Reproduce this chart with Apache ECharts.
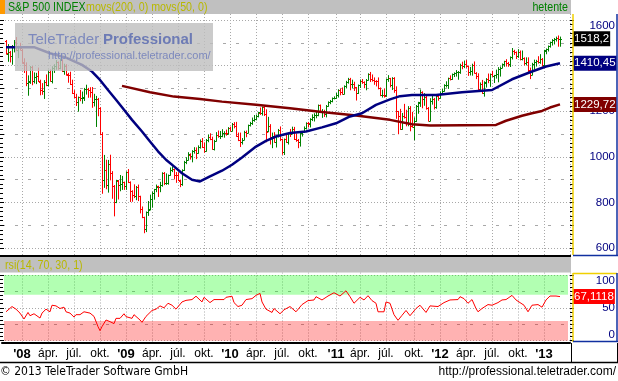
<!DOCTYPE html>
<html><head><meta charset="utf-8">
<script src="https://cdn.jsdelivr.net/npm/echarts@6/dist/echarts.min.js"></script>
<style>html,body{margin:0;padding:0;background:#fff}#c{width:618px;height:381px}</style>
</head><body><div id="c"></div>
<script>
// ---------- DATA ----------
const firstWeek = [2007, 10, 26];      // first weekly slot (Friday) on the axis
const weekCount = 285;                 // weekly slots on the axis
const dataStartWeek = 2;               // first bar: week ending 2007-11-09
const lastLabelWeek = 279;             // no time labels after the last bar
const monthNames = {4: 'ápr.', 7: 'júl.', 10: 'okt.'};

const opens = [
 1509,1453,1458,1440,1481,1505,1468,1484,
 1468,1414,1402,1325,1330,1395,1331,1350,1353,1330,1293,1288,1330,1316,1370,1333,1390,1398,1414,1388,1425,1376,1400,1361,1360,1318,1278,1263,1239,1261,1258,1260,1296,1298,1292,1283,1242,1252,1255,1213,1099,899,941,877,969,931,873,800,896,876,880,888,
 873,932,890,850,832,826,869,827,770,735,683,757,769,816,843,857,870,866,878,929,883,887,919,940,946,921,919,896,879,940,979,988,1010,1004,1026,1029,1016,1043,1068,1044,1025,1072,1088,1080,1036,1069,1094,1091,1091,1106,1106,1102,1127,
 1115,1145,1136,1092,1074,1066,1075,1109,1105,1139,1150,1160,1167,1178,1194,1192,1217,1187,1111,1136,1088,1089,1065,1092,1118,1077,1023,1078,1065,1103,1102,1122,1079,1072,1065,1104,1110,1126,1149,1146,1165,1176,1183,1183,1226,1199,1200,1189,1225,1240,1244,1257,
 1258,1271,1293,1283,1277,1311,1329,1343,1320,1321,1304,1279,1314,1332,1328,1320,1337,1364,1340,1338,1333,1331,1300,1271,1272,1269,1340,1344,1316,1345,1292,1199,1179,1123,1177,1174,1154,1216,1136,1131,1155,1225,1238,1285,1253,1264,1216,1159,1244,1255,1220,1265,
 1258,1278,1289,1315,1316,1345,1343,1361,1366,1370,1371,1404,1397,1408,1398,1370,1378,1403,1369,1353,1295,1318,1278,1326,1343,1335,1362,1355,1357,1363,1386,1391,1406,1418,1411,1407,1438,1466,1460,1441,1461,1429,1433,1412,1414,1380,1360,1409,1416,1418,1414,1430,
 1402,1466,1472,1486,1503,1513,1518,1520,1516];
const highs = [
 1510,1492,1462,1488,1510,1523,1485,1498,
 1471,1430,1412,1355,1396,1396,1368,1366,1389,1336,1321,1334,1359,1380,1381,1395,1404,1422,1416,1429,1426,1406,1404,1366,1371,1336,1290,1274,1262,1291,1284,1300,1314,1300,1303,1304,1274,1265,1256,1215,1106,1006,985,984,1007,935,874,897,896,918,914,889,
 934,944,890,851,877,870,876,827,780,735,758,804,832,845,857,876,871,888,930,931,925,920,951,956,946,931,930,898,943,980,996,1018,1013,1027,1040,1039,1048,1074,1080,1061,1076,1096,1101,1086,1072,1106,1113,1111,1119,1110,1117,1128,1130,
 1146,1150,1151,1104,1104,1080,1112,1113,1139,1151,1170,1181,1183,1195,1214,1218,1219,1206,1173,1141,1104,1106,1092,1120,1131,1077,1078,1099,1103,1120,1130,1129,1100,1076,1105,1111,1131,1149,1151,1167,1184,1189,1196,1227,1227,1207,1204,1225,1241,1247,1258,1263,
 1278,1294,1297,1302,1311,1331,1344,1344,1336,1327,1304,1315,1337,1339,1329,1339,1364,1370,1359,1346,1334,1346,1302,1292,1298,1341,1356,1344,1347,1347,1307,1199,1208,1190,1230,1204,1220,1220,1195,1171,1225,1239,1293,1285,1277,1266,1216,1255,1267,1256,1266,1270,
 1285,1297,1316,1329,1345,1355,1363,1368,1378,1374,1406,1415,1420,1422,1398,1392,1406,1416,1369,1364,1324,1335,1329,1343,1363,1363,1375,1357,1380,1391,1394,1407,1419,1426,1414,1438,1475,1467,1460,1470,1464,1464,1434,1434,1434,1389,1410,1424,1423,1439,1448,1431,
 1467,1473,1486,1503,1514,1519,1525,1530,1525];
const lows = [
 1450,1419,1416,1406,1460,1467,1435,1468,
 1411,1370,1312,1270,1322,1316,1324,1321,1330,1272,1274,1256,1312,1312,1332,1324,1370,1384,1384,1386,1374,1362,1359,1327,1317,1278,1260,1225,1200,1246,1235,1247,1275,1261,1262,1217,1223,1133,1180,1097,840,866,860,845,899,818,741,799,815,851,857,857,
 857,887,804,805,821,812,808,754,733,667,672,743,767,779,814,847,826,847,871,878,879,880,919,935,903,888,896,869,875,940,970,986,990,978,1016,992,1016,1038,1041,1020,1025,1066,1075,1033,1030,1069,1086,1080,1088,1086,1095,1100,1115,
 1114,1127,1090,1071,1045,1056,1075,1088,1105,1135,1142,1156,1162,1175,1186,1183,1181,1066,1110,1056,1040,1064,1043,1087,1071,1011,1010,1063,1056,1089,1102,1076,1068,1040,1047,1091,1107,1122,1131,1131,1159,1157,1171,1180,1195,1173,1177,1175,1222,1233,1241,1254,
 1257,1262,1272,1275,1276,1302,1323,1294,1302,1291,1249,1278,1304,1322,1303,1294,1337,1330,1332,1318,1311,1298,1268,1262,1262,1265,1331,1307,1295,1283,1169,1101,1120,1121,1170,1136,1136,1114,1131,1075,1155,1191,1221,1215,1226,1209,1158,1158,1231,1210,1213,1248,
 1258,1274,1288,1306,1300,1337,1340,1352,1354,1340,1366,1386,1391,1392,1357,1359,1358,1367,1343,1292,1291,1278,1266,1306,1325,1309,1353,1326,1345,1329,1354,1391,1397,1398,1397,1396,1429,1449,1431,1436,1425,1425,1403,1403,1373,1343,1360,1385,1398,1411,1410,1398,
 1401,1452,1464,1481,1490,1495,1508,1485,1485];
const closes = [
 1453.7,1458.7,1440.7,1481.1,1504.7,1467.9,1484.5,1478.5,
 1411.6,1401.0,1325.2,1330.6,1395.4,1331.3,1350.0,1353.1,1330.6,1293.4,1288.1,1329.5,1315.2,1370.4,1332.8,1390.3,1397.8,1413.9,1388.3,1425.4,1375.9,1400.4,1360.7,1360.0,1317.9,1278.4,1262.9,1239.5,1260.7,1257.8,1260.3,1296.3,1298.2,1292.2,1282.8,1242.3,1251.7,1255.1,1213.3,1099.2,899.2,940.6,876.8,968.8,931.0,873.3,800.0,896.2,876.1,879.7,887.9,872.8,
 931.8,890.4,850.1,832.0,825.9,868.6,826.8,770.1,735.1,683.4,756.6,768.5,815.9,842.5,856.6,869.6,866.2,877.5,929.2,882.9,887.0,919.1,940.1,946.2,921.2,918.9,896.4,879.1,940.4,979.3,987.5,1010.5,1004.1,1026.1,1028.9,1016.4,1042.7,1068.3,1044.4,1025.2,1071.5,1087.7,1079.6,1036.2,1069.3,1093.5,1091.4,1091.5,1106.0,1106.4,1102.5,1126.5,1115.1,
 1145.0,1136.0,1091.8,1073.9,1066.2,1075.5,1109.2,1104.5,1138.7,1150.0,1159.9,1166.6,1178.1,1194.4,1192.1,1217.3,1186.7,1110.9,1135.7,1087.7,1089.4,1064.9,1091.6,1117.5,1076.8,1022.6,1078.0,1064.9,1102.7,1101.6,1121.6,1079.3,1071.7,1064.6,1104.5,1109.6,1125.6,1148.7,1146.2,1165.2,1176.2,1183.1,1183.3,1225.9,1199.2,1199.7,1189.4,1224.7,1240.4,1243.9,1256.8,1257.6,
 1271.5,1293.2,1283.4,1276.3,1310.9,1329.2,1343.0,1319.9,1321.2,1304.3,1279.2,1313.8,1332.4,1328.2,1319.7,1337.4,1363.6,1340.2,1337.8,1333.3,1331.1,1300.2,1271.0,1271.5,1268.5,1339.7,1344.0,1316.1,1345.0,1292.3,1199.4,1178.8,1123.5,1176.8,1174.0,1154.2,1216.0,1136.4,1131.4,1155.5,1224.6,1238.3,1285.1,1253.2,1263.9,1215.7,1158.7,1244.3,1255.2,1219.7,1265.3,1257.6,
 1277.8,1289.1,1315.4,1316.3,1344.9,1342.6,1361.2,1365.7,1370.0,1370.9,1404.2,1397.1,1408.5,1398.1,1370.3,1378.5,1403.4,1369.1,1353.4,1295.2,1317.8,1278.0,1325.7,1342.8,1335.0,1362.2,1354.7,1356.8,1362.7,1386.0,1391.0,1405.9,1418.2,1411.1,1406.6,1437.9,1465.8,1460.2,1440.7,1460.9,1428.6,1433.2,1411.9,1414.2,1380.0,1359.9,1409.2,1416.2,1418.1,1413.6,1430.2,1402.4,
 1466.5,1472.1,1486.0,1503.0,1513.2,1517.9,1519.8,1515.6,1518.2];

// moving averages (week number on the axis -> value)
const ma50Week   = [2,16,24,32,40,45,49,53,57,61,65,70,74,78,82,86,90,95,99,104,110,115,120,127,132,137,144,152,160,167,174,180,187,194,199,205,217,230,245,255,265,272,279];
const ma50Values = [1481,1481,1454,1435,1403,1374,1337,1293,1250,1206,1162,1111,1067,1024,987,958,928,899,892,914,939,965,997,1045,1070,1089,1104,1111,1129,1147,1177,1191,1228,1252,1266,1271,1271,1283,1293,1340,1374,1396,1410.45];
const ma200Week   = [60,74,86,99,110,127,144,160,177,194,205,214,247,252,260,265,270,274,279];
const ma200Values = [1311,1283,1264,1254,1242,1228,1213,1196,1181,1162,1143,1137,1140,1158,1180,1191,1201,1216,1229.72];

// RSI(14)
const rsiWeek = [2,3,5,7,8,9,10,11,12,13,14,16,17,19,20,22,24,25,27,28,29,31,32,34,36,37,39,41,42,44,46,48,49,50,51,52,54,56,57,59,61,62,65,66,69,70,72,75,77,79,81,83,85,87,90,92,95,97,100,101,104,106,111,112,115,116,118,120,122,125,127,129,130,132,133,135,136,139,141,144,147,150,153,156,157,160,163,166,169,172,174,176,179,181,183,185,187,188,191,192,194,196,198,200,202,204,207,209,212,214,218,221,224,228,229,231,233,235,237,238,240,243,245,248,250,252,255,257,259,261,263,265,268,270,272,274,277,279];
const rsiValues = [44,43,52,48,49,42,40,33,34.5,43,38,41,40,34.5,42,48,44,54,53,54,49,51,44,42,36,39.6,39.6,44,44,42,37,21.4,15.3,21.4,22,31.5,29,26,34,34,41,36.6,34,39.6,31.5,28,37,46,48,53,50,57,54,48,59,61.4,62.6,67.7,59,66,58,62.6,62.6,66,67.7,58,52,54,62.6,64,69,72,59,48,49,43,49,41,47,52,44,55,61,62,67,62,68,73,68,76,67,57,66,62,68.5,61,57,44,44,59,57,39.6,31,38.6,46,38,49,54,43,53,52,58,62,62.6,67,64,57,62.6,49,44,49,55,54,58,62,62.6,69,62,58,54,44,54,55,51,62,68,68,67.1118];
const rsiBands = [[70, 100, 'rgba(0,255,0,0.30)'], [0, 30, 'rgba(255,0,0,0.30)']];

// ---------- BUILD ----------
const weeks = [];
const t0 = Date.UTC(firstWeek[0], firstWeek[1] - 1, firstWeek[2]);
for (let i = 0; i < weekCount; i++) weeks.push(new Date(t0 + i * 7 * 864e5).toISOString().slice(0, 10));
const isQuarter = idx => { const d = weeks[idx]; if (!d) return false; const m = +d.slice(5, 7), day = +d.slice(8, 10); return (m % 3 === 1) && day <= 7; };
const isLabel = idx => idx <= lastLabelWeek && isQuarter(idx);
const quarterLabel = v => { const m = +v.slice(5, 7); return m === 1 ? '{y|\'' + v.slice(2, 4) + '}' : monthNames[m]; };

const UP = '#008000', DOWN = '#ff0000';
const ohlc = closes.map((c, i) => [i + dataStartWeek, opens[i], c, lows[i], highs[i]]);
const pairs = (at, vals) => at.map((k, i) => [weeks[k], vals[i]]);
const fmt = v => String(v).replace('.', ',');

const SANS = "'Liberation Sans', Arial, sans-serif";
const DOT = [1, 2], DASH = [3, 10], GRIDC = '#a8a8a8', CLEAR = 'rgba(0,0,0,0)';

const tagItem = (value, bg) => ({yAxis: value, label: {formatter: fmt(value), backgroundColor: bg}});
const tags = items => ({
  symbol: ['none', 'none'], silent: true, animation: false,
  lineStyle: {color: CLEAR, width: 1, type: 'solid'},
  label: {show: true, position: 'end', distance: 3, color: '#fff',
          padding: [2, 1, 1, 1], fontFamily: SANS, fontSize: 11.5, lineHeight: 12},
  emphasis: {disabled: true},
  data: items
});

// OHLC bar drawn through the axis scales
const renderBar = (params, api) => {
  const k = api.value(0), o = api.value(1), c = api.value(2), l = api.value(3), h = api.value(4);
  const pH = api.coord([k, h]), pL = api.coord([k, l]), pO = api.coord([k, o]), pC = api.coord([k, c]);
  const col = c >= o ? UP : DOWN;
  const x = Math.round(pH[0]) + 0.5;
  const st = {stroke: col, lineWidth: 1};
  return {type: 'group', children: [
    {type: 'line', shape: {x1: x, y1: pH[1] - 0.5, x2: x, y2: pL[1] + 0.5}, style: st},
    {type: 'line', shape: {x1: x - 1.5, y1: Math.round(pO[1]) + 0.5, x2: x, y2: Math.round(pO[1]) + 0.5}, style: st},
    {type: 'line', shape: {x1: x, y1: Math.round(pC[1]) + 0.5, x2: x + 1.5, y2: Math.round(pC[1]) + 0.5}, style: st}
  ]};
};

const catAxis = (gridIndex, extra) => Object.assign({
  gridIndex, type: 'category', data: weeks, boundaryGap: false,
  axisLine: {show: false}, axisTick: {show: false}, axisLabel: {show: false}, splitLine: {show: false}
}, extra);

const W = 568, L = 2;
const narrowText = (x, y, text, fill, size, extra) => ({type: 'text', z: 52, x, y, scaleX: 0.82, scaleY: 1,
  style: Object.assign({x: 0, y: 0, text, fill, font: size + 'px ' + SANS, textVerticalAlign: 'middle', verticalAlign: 'middle'}, extra || {})});

const option = {
  animation: false,
  backgroundColor: '#fff',
  grid: [
    {left: L, top: 20, width: W, height: 228},          // 0 price data
    {left: L, top: 14, width: W, height: 241},          // 1 price frame (vertical grid)
    {left: L, top: 275, width: W, height: 65.7},        // 2 rsi data
    {left: L, top: 272.5, width: W, height: 70}         // 3 rsi frame + time labels
  ],
  xAxis: [
    catAxis(0),
    catAxis(1, {splitLine: {show: true, interval: isQuarter, lineStyle: {color: GRIDC, type: DOT}}}),
    catAxis(2),
    catAxis(3, {
      splitLine: {show: true, interval: isQuarter, lineStyle: {color: GRIDC, type: DOT}},
      axisLine: {show: true, onZero: false, lineStyle: {color: '#000', width: 2}},
      axisLabel: {show: true, interval: isLabel, formatter: quarterLabel, margin: 5, color: '#000',
                  fontFamily: SANS, fontSize: 12, rich: {y: {fontWeight: 'bold', fontSize: 13, fontFamily: SANS, color: '#000'}}}
    })
  ],
  yAxis: [
    {gridIndex: 0, type: 'value', position: 'right', min: 600, max: 1600, interval: 100,
     axisLine: {show: false},
     axisTick: {show: true, length: 4, lineStyle: {color: '#000'}},
     minorTick: {show: true, splitNumber: 5, length: 3, lineStyle: {color: '#000'}},
     splitLine: {show: true, lineStyle: {color: [GRIDC, CLEAR], type: DOT}},
     axisLabel: {formatter: v => (v % 200 === 0 ? String(v) : ''), align: 'right', margin: 45, color: '#000080',
                 fontFamily: SANS, fontSize: 11.5, verticalAlignMaxLabel: 'top'}},
    {gridIndex: 0, type: 'value', position: 'left', offset: 2, min: 600, max: 1600, interval: 100,
     axisLine: {show: false}, axisLabel: {show: false},
     axisTick: {show: true, inside: true, length: 4, lineStyle: {color: '#000'}},
     minorTick: {show: true, splitNumber: 5, length: 3, lineStyle: {color: '#000'}},
     splitLine: {show: true, lineStyle: {color: [CLEAR, GRIDC], type: DASH}}},
    {gridIndex: 1, type: 'value', show: false},
    {gridIndex: 2, type: 'value', position: 'right', min: 0, max: 100, interval: 25,
     axisLine: {show: false},
     axisTick: {show: true, length: 4, lineStyle: {color: '#000'}},
     minorTick: {show: true, splitNumber: 4, length: 3, lineStyle: {color: '#000'}},
     splitLine: {show: true, lineStyle: {color: [GRIDC, CLEAR], type: DOT}},
     axisLabel: {formatter: v => (v % 50 === 0 ? String(v) : ''), align: 'right', margin: 45, color: '#000080',
                 fontFamily: SANS, fontSize: 11.5, verticalAlignMaxLabel: 'top', verticalAlignMinLabel: 'bottom'}},
    {gridIndex: 2, type: 'value', position: 'left', offset: 2, min: 0, max: 100, interval: 25,
     axisLine: {show: false}, axisLabel: {show: false},
     axisTick: {show: true, inside: true, length: 4, lineStyle: {color: '#000'}},
     minorTick: {show: true, splitNumber: 4, length: 3, lineStyle: {color: '#000'}},
     splitLine: {show: true, lineStyle: {color: [CLEAR, GRIDC], type: DASH}}},
    {gridIndex: 3, type: 'value', show: false}
  ],
  series: [
    {type: 'custom', name: 'S&P 500 INDEX', xAxisIndex: 0, yAxisIndex: 0, data: ohlc, renderItem: renderBar,
     encode: {x: 0, y: [1, 2, 3, 4]}, clip: false, silent: true},
    {type: 'line', name: 'movs(200, 0)', xAxisIndex: 0, yAxisIndex: 0, data: pairs(ma200Week, ma200Values), clip: false,
     symbol: 'none', lineStyle: {color: '#800000', width: 2.5}, itemStyle: {color: '#800000'},
     markLine: tags([tagItem(ma200Values[ma200Values.length - 1], '#800000'), tagItem(closes[closes.length - 1], '#000')])},
    {type: 'line', name: 'movs(50, 0)', xAxisIndex: 0, yAxisIndex: 0, data: pairs(ma50Week, ma50Values), clip: false,
     symbol: 'none', lineStyle: {color: '#000080', width: 2.5}, itemStyle: {color: '#000080'},
     markLine: tags([tagItem(ma50Values[ma50Values.length - 1], '#000080')])},
    {type: 'line', name: 'rsi', xAxisIndex: 2, yAxisIndex: 3, data: pairs(rsiWeek, rsiValues), clip: false,
     symbol: 'none', lineStyle: {color: '#ff0000', width: 1}, itemStyle: {color: '#ff0000'},
     markArea: {silent: true, data: rsiBands.map(b => [
        {xAxis: weeks[1], yAxis: b[0], itemStyle: {color: b[2]}}, {xAxis: weeks[283], yAxis: b[1]}])},
     markLine: tags([tagItem(rsiValues[rsiValues.length - 1], '#ff0000')])}
  ],
  graphic: [
    // header
    {type: 'rect', z: 50, shape: {x: 0, y: 0, width: 571, height: 14}, style: {fill: '#c0c0c0'}},
    {type: 'rect', z: 51, shape: {x: 0, y: 0, width: 5, height: 14}, style: {fill: '#ff9900'}},
    narrowText(8, 7.5, 'S&P 500 INDEX', '#008000', 13),
    narrowText(86, 7.5, 'movs(200, 0) movs(50, 0)', '#b8b800', 13),
    narrowText(568, 7.5, 'hetente', '#008000', 13, {textAlign: 'right', align: 'right'}),
    // separators / rsi title
    {type: 'rect', z: 50, shape: {x: 0, y: 255, width: 571, height: 2}, style: {fill: '#000'}},
    {type: 'rect', z: 50, shape: {x: 0, y: 257, width: 571, height: 15.5}, style: {fill: '#c0c0c0'}},
    narrowText(5, 265, 'rsi(14, 70, 30, 1)', '#b8b800', 13),
    // right panels
    {type: 'line', z: 50, shape: {x1: 573, y1: 14, x2: 573, y2: 255}, style: {stroke: '#f0d000', lineWidth: 1.5}},
    {type: 'line', z: 50, shape: {x1: 617, y1: 14, x2: 617, y2: 255}, style: {stroke: '#1030a0', lineWidth: 1.5}},
    {type: 'line', z: 50, shape: {x1: 573, y1: 255.5, x2: 618, y2: 255.5}, style: {stroke: '#1030a0', lineWidth: 1.5}},
    {type: 'line', z: 50, shape: {x1: 573, y1: 273.5, x2: 617, y2: 273.5}, style: {stroke: '#f0d000', lineWidth: 1.5}},
    {type: 'line', z: 50, shape: {x1: 573, y1: 273, x2: 573, y2: 342}, style: {stroke: '#f0d000', lineWidth: 1.5}},
    {type: 'line', z: 50, shape: {x1: 617, y1: 273, x2: 617, y2: 342}, style: {stroke: '#1030a0', lineWidth: 1.5}},
    {type: 'line', z: 50, shape: {x1: 573, y1: 341.5, x2: 618, y2: 341.5}, style: {stroke: '#1030a0', lineWidth: 1.5}},
    // time-label row
    {type: 'line', z: 50, shape: {x1: 0, y1: 362.5, x2: 618, y2: 362.5}, style: {stroke: '#000', lineWidth: 1.5}},
    {type: 'line', z: 50, shape: {x1: 571.5, y1: 343, x2: 571.5, y2: 362.5}, style: {stroke: '#000', lineWidth: 1}},
    {type: 'line', z: 50, shape: {x1: 617.5, y1: 343, x2: 617.5, y2: 362.5}, style: {stroke: '#000', lineWidth: 1}},
    // footer
    {type: 'text', z: 52, style: {x: 0, y: 372, text: '© 2013 TeleTrader Software GmbH', fill: '#000', font: "12px 'DejaVu Sans Condensed', 'DejaVu Sans', sans-serif", textVerticalAlign: 'middle', verticalAlign: 'middle'}},
    {type: 'text', z: 52, style: {x: 616, y: 372, text: 'http://professional.teletrader.com/', fill: '#000', font: '12px ' + SANS, textAlign: 'right', align: 'right', textVerticalAlign: 'middle', verticalAlign: 'middle'}},
    // watermark
    {type: 'rect', z: 60, shape: {x: 15, y: 23, width: 198, height: 48}, style: {fill: 'rgba(190,190,190,0.8)'}},
    {type: 'text', z: 61, style: {x: 28, y: 40, text: 'TeleTrader', fill: '#7d89bd', font: '15px ' + SANS, textVerticalAlign: 'middle', verticalAlign: 'middle'}},
    {type: 'text', z: 61, style: {x: 103, y: 40, text: 'Professional', fill: '#6d7bb5', font: 'bold 15px ' + SANS, textVerticalAlign: 'middle', verticalAlign: 'middle'}},
    {type: 'text', z: 61, style: {x: 48, y: 56, text: 'http://professional.teletrader.com/', fill: '#7d89bd', font: '11px ' + SANS, textVerticalAlign: 'middle', verticalAlign: 'middle'}}
  ]
};
const chart = echarts.init(document.getElementById('c'), null, {width: 618, height: 381});
chart.setOption(option);
</script>
</body></html>
